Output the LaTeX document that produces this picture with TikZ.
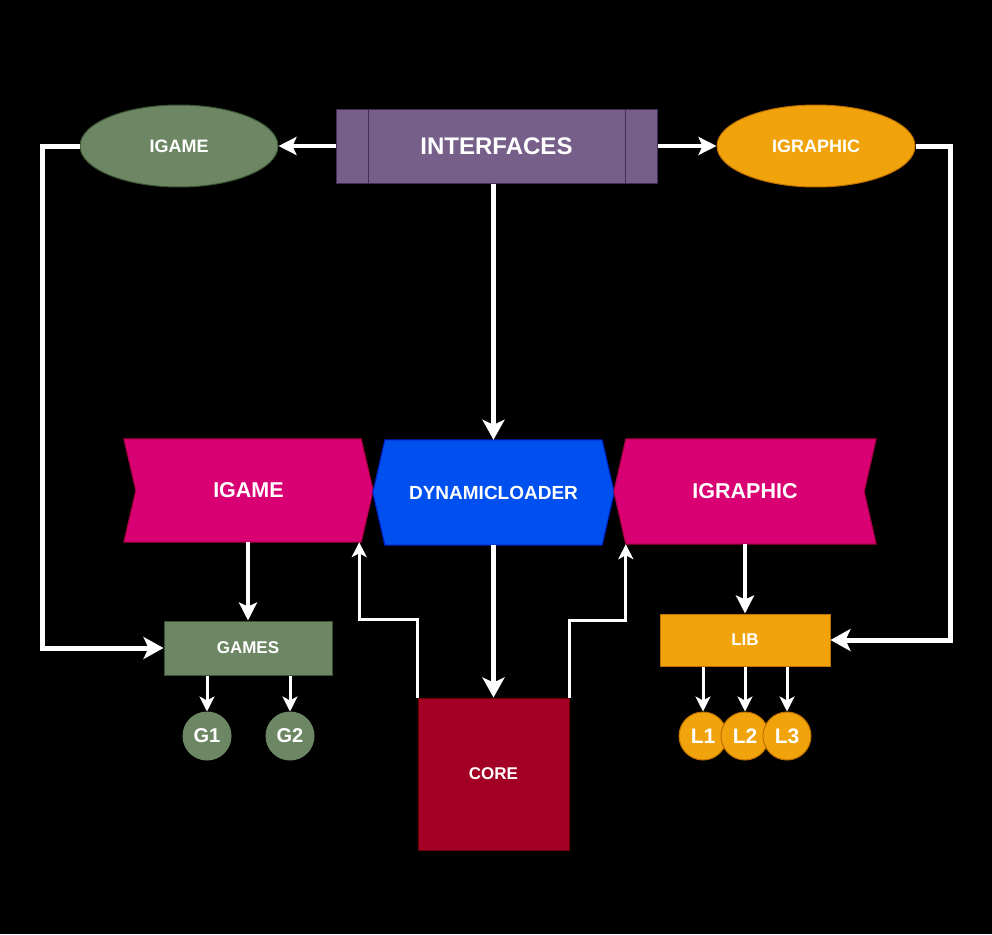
\documentclass[tikz,border=0pt]{standalone}
\usepackage{fontspec}
\setmainfont{Liberation Sans}
\usetikzlibrary{shapes.geometric,arrows.meta}
\pgfdeclarelayer{bg}\pgfdeclarelayer{shp}\pgfsetlayers{bg,shp,main}
\definecolor{ifcf}{HTML}{76608A}\definecolor{ifcs}{HTML}{432D57}
\definecolor{grnf}{HTML}{6D8764}\definecolor{grns}{HTML}{3A5431}
\definecolor{orgf}{HTML}{F0A30A}\definecolor{orgs}{HTML}{BD7000}
\definecolor{pnkf}{HTML}{D80073}\definecolor{pnks}{HTML}{A50040}
\definecolor{bluf}{HTML}{0050EF}\definecolor{blus}{HTML}{001DBC}
\definecolor{redf}{HTML}{A20025}\definecolor{reds}{HTML}{6F0000}
\newcommand{\fsz}[1]{\fontsize{#1}{#1}\selectfont}
\begin{document}
\begin{tikzpicture}[x=1pt,y=-1pt,
  lbl/.style={text=white,font=\bfseries\fsz{#1},inner sep=0pt},
  box/.style={rectangle,line width=1},
  ghost/.style={rectangle,draw=none,fill=none},
  bub/.style={circle,minimum size=48,line width=1,text=white,font=\bfseries\fsz{#1},inner sep=0pt},
  wthick/.style={draw=white,line width=5,-{Stealth[length=20,width=22,inset=5]}},
  wmid/.style={draw=white,line width=4,-{Stealth[length=18,width=18,inset=4]}},
  wthin/.style={draw=white,line width=3,-{Stealth[length=15,width=15,inset=4]}},
  shp/.style={line width=1}
]
\begin{pgfonlayer}{bg}
\fill[black] (0,0) rectangle (992,934);
\end{pgfonlayer}
\useasboundingbox (0,0) rectangle (992,934);

% top row
\node[box,fill=ifcf,draw=ifcs,minimum width=321,minimum height=74,lbl=24] (ifc) at (496.5,146) {INTERFACES};
\draw[ifcs,line width=1] ([xshift=33]ifc.north west) -- ([xshift=33]ifc.south west);
\draw[ifcs,line width=1] ([xshift=-32]ifc.north east) -- ([xshift=-32]ifc.south east);
\node[ellipse,fill=grnf,draw=grns,line width=1,minimum width=198,minimum height=82,lbl=18] (ige) at (179,146) {IGAME};
\node[ellipse,fill=orgf,draw=orgs,line width=1,minimum width=198,minimum height=82,lbl=18] (igx) at (816,146) {IGRAPHIC};

% middle row
\node[ghost,minimum width=249,minimum height=103,lbl=21.5] (igs) at (248.5,490.5) {IGAME};
\node[ghost,minimum width=241,minimum height=105,lbl=19] (dl) at (493.5,492.5) {DYNAMICLOADER};
\node[ghost,minimum width=262,minimum height=105,lbl=21.5] (igr) at (745,491.5) {IGRAPHIC};
\begin{pgfonlayer}{shp}
\draw[shp,fill=pnkf,draw=pnks] (igs.north west) -- ([xshift=-12]igs.north east) -- (igs.east) -- ([xshift=-12]igs.south east) -- (igs.south west) -- ([xshift=12]igs.west) -- cycle;
\draw[shp,fill=bluf,draw=blus] ([xshift=12]dl.north west) -- ([xshift=-12]dl.north east) -- (dl.east) -- ([xshift=-12]dl.south east) -- ([xshift=12]dl.south west) -- (dl.west) -- cycle;
\draw[shp,fill=pnkf,draw=pnks] ([xshift=12]igr.north west) -- (igr.north east) -- ([xshift=-12]igr.east) -- (igr.south east) -- ([xshift=12]igr.south west) -- (igr.west) -- cycle;
\end{pgfonlayer}

% bottom row
\node[box,fill=grnf,draw=grns,minimum width=168,minimum height=54,lbl=17] (gm) at (248,648) {GAMES};
\node[box,fill=redf,draw=reds,minimum width=151,minimum height=152,lbl=17] (core) at (493.5,774) {CORE};
\node[box,fill=orgf,draw=orgs,minimum width=170,minimum height=52,lbl=17] (lib) at (745,640) {LIB};
\node[bub=20,fill=grnf,draw=grnf] (g1) at (207,736) {G1};
\node[bub=20,fill=grnf,draw=grnf] (g2) at (290,736) {G2};
\node[bub=21,fill=orgf,draw=orgs] (l1) at (703,736) {L1};
\node[bub=21,fill=orgf,draw=orgs] (l2) at (745,736) {L2};
\node[bub=21,fill=orgf,draw=orgs] (l3) at (787,736) {L3};

% connectors
\coordinate (lc) at (42,146);
\coordinate (rc) at (950,146);
\draw[wmid] (ifc.west) -- (ige.east);
\draw[wmid] (ifc.east) -- (igx.west);
\draw[wthick] (ifc.south -| dl.north) -- (dl.north);
\draw[wthick] (ige.west) -- (lc) |- (gm.west);
\draw[wthick] (igx.east) -- (rc) |- (lib.east);
\draw[wmid] (igs.south -| gm.north) -- (gm.north);
\draw[wthin] (gm.south -| g1.north) -- (g1.north);
\draw[wthin] (gm.south -| g2.north) -- (g2.north);
\draw[wthick] (dl.south) -- (core.north);
\draw[wthin] (core.north west) -- ++(0,-78) -| ([xshift=-14]igs.south east);
\draw[wthin] (core.north east) -- ++(0,-77) -| ([xshift=12]igr.south west);
\draw[wmid] (igr.south) -- (lib.north);
\draw[wthin] (lib.south -| l1.north) -- (l1.north);
\draw[wthin] (lib.south -| l2.north) -- (l2.north);
\draw[wthin] (lib.south -| l3.north) -- (l3.north);
\end{tikzpicture}
\end{document}
